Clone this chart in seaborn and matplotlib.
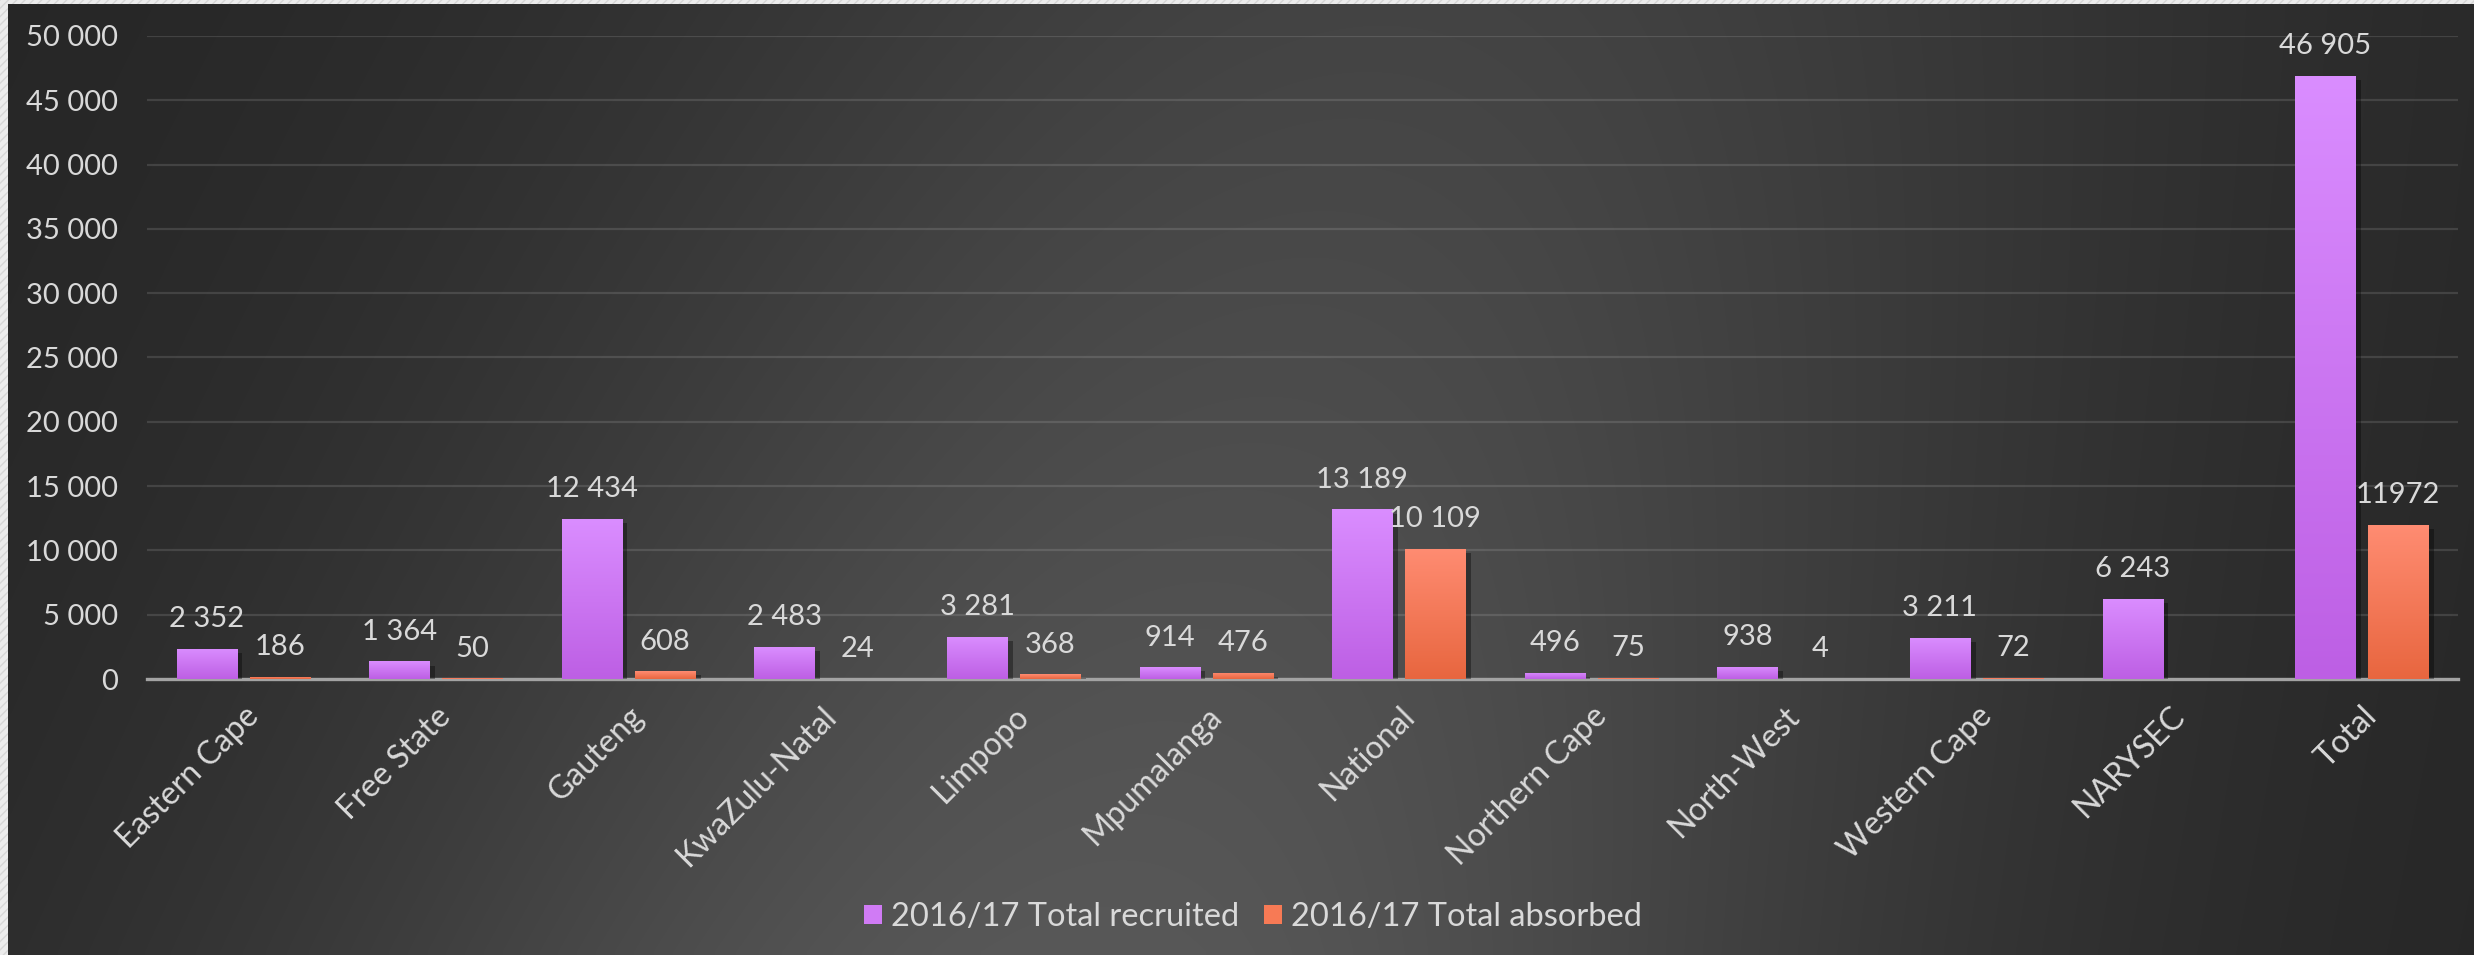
import numpy as np
import pandas as pd
import matplotlib
matplotlib.use("Agg")
import matplotlib.pyplot as plt
import matplotlib.patheffects as pe
from matplotlib.patches import Rectangle, Patch
from matplotlib.colors import LinearSegmentedColormap
import seaborn as sns

# ---------------- data ----------------
categories = ["Eastern Cape", "Free State", "Gauteng", "KwaZulu-Natal", "Limpopo",
              "Mpumalanga", "National", "Northern Cape", "North-West", "Western Cape",
              "NARYSEC", "Total"]
recruited = [2352, 1364, 12434, 2483, 3281, 914, 13189, 496, 938, 3211, 6243, 46905]
absorbed = [186, 50, 608, 24, 368, 476, 10109, 75, 4, 72, np.nan, 11972]
recruited_labels = ["2 352", "1 364", "12 434", "2 483", "3 281", "914", "13 189",
                    "496", "938", "3 211", "6 243", "46 905"]
absorbed_labels = ["186", "50", "608", "24", "368", "476", "10 109", "75", "4", "72",
                   None, "11972"]
series_names = ["2016/17 Total recruited", "2016/17 Total absorbed"]
yticks = list(range(0, 50001, 5000))
ytick_labels = ["0", "5 000", "10 000", "15 000", "20 000", "25 000", "30 000",
                "35 000", "40 000", "45 000", "50 000"]

# ---------------- style ----------------
sns.set_theme(style="dark")
plt.rcParams["font.family"] = ["Lato", "DejaVu Sans"]
TXT = "#d9d9d9"
W, H, DPI = 2474, 955, 100
purple_top, purple_bot = "#da8dff", "#bd5fe4"
orange_top, orange_bot = "#ff8c72", "#e8663f"

fig = plt.figure(figsize=(W / DPI, H / DPI), dpi=DPI, facecolor="#ebebeb")

# hatched light border (top/left) behind everything
bgh = fig.add_axes([0, 0, 1, 1], zorder=-20)
bgh.set_axis_off()
bgh.add_patch(Rectangle((0, 0), 1, 1, transform=bgh.transAxes, facecolor="#ececec",
                        edgecolor="#d6d6d6", hatch="////", linewidth=0))

# dark gradient background
bg = fig.add_axes([8 / W, 0, 1 - 8 / W, 1 - 4 / H], zorder=-10)
bg.set_axis_off()
gx = np.linspace(0, 1, 400)
gy = np.linspace(0, 1, 160)
X, Y = np.meshgrid(gx, gy)
U = X + 0.12 * (Y - 0.5)
val = 0.145 + (0.12 + 0.08 * Y) * np.exp(-((U - 0.5) / 0.33) ** 2)
bg.imshow(np.dstack([val, val, val]), aspect="auto", extent=[0, 1, 1, 0],
          interpolation="bilinear")
bg.set_xlim(0, 1)
bg.set_ylim(1, 0)

# main axes
ax = fig.add_axes([147 / W, 1 - 679 / H, (2458 - 147) / W, (679 - 36) / H])
ax.set_facecolor("none")

df = pd.DataFrame({
    "category": categories * 2,
    "value": recruited + absorbed,
    "series": [series_names[0]] * len(categories) + [series_names[1]] * len(categories),
})
sns.barplot(data=df, x="category", y="value", hue="series", order=categories,
            hue_order=series_names, palette=[purple_bot, orange_bot],
            width=0.76, gap=0.18, errorbar=None, ax=ax, legend=False,
            linewidth=0, zorder=3)

ax.set_ylim(0, 50000)
ax.set_yticks(yticks)
ax.set_yticklabels(ytick_labels)
ax.set_xlim(-0.5, len(categories) - 0.5)
ax.set_xlabel("")
ax.set_ylabel("")
ax.grid(axis="y", color="#ffffff", alpha=0.12, linewidth=1.6, zorder=0)
ax.grid(axis="x", visible=False)
for s in ["left", "right", "top"]:
    ax.spines[s].set_visible(False)
ax.spines["bottom"].set_color("#a3a3a3")
ax.spines["bottom"].set_linewidth(2.4)
ax.spines["bottom"].set_zorder(5)
ax.tick_params(axis="y", length=0, pad=21, labelsize=21, labelcolor=TXT)
ax.tick_params(axis="x", length=0, pad=16, labelsize=23, labelcolor=TXT)
for lab in ax.get_xticklabels():
    lab.set_rotation(45)
    lab.set_ha("right")
    lab.set_va("top")
    lab.set_rotation_mode("anchor")

# gradient fill + shadow + labels for each bar
cmaps = [LinearSegmentedColormap.from_list("p", [purple_bot, purple_top]),
         LinearSegmentedColormap.from_list("o", [orange_bot, orange_top])]
label_sets = [recruited_labels, absorbed_labels]
grad = np.linspace(0, 1, 256).reshape(-1, 1)
for ci, cont in enumerate(ax.containers):
    for bar in cont:
        h = bar.get_height()
        if not np.isfinite(h) or h <= 0:
            continue
        x0 = bar.get_x()
        w = bar.get_width()
        bar.set_path_effects([pe.SimplePatchShadow(offset=(4, -3), shadow_rgbFace="black",
                                                   alpha=0.35), pe.Normal()])
        bar.set_zorder(6)
        im = ax.imshow(grad, cmap=cmaps[ci], aspect="auto", origin="lower",
                       extent=[x0, x0 + w, 0, h], zorder=6.5)
        im.set_clip_path(bar)
        idx = int(round(x0 + w / 2))
        txt = label_sets[ci][idx]
        if txt is not None:
            ax.annotate(txt, (x0 + w / 2, h), xytext=(0, 12), textcoords="offset points",
                        ha="center", va="bottom", fontsize=21, color=TXT,
                        annotation_clip=False, zorder=7)
ax.set_xlim(-0.5, len(categories) - 0.5)
ax.set_ylim(0, 50000)

# legend
handles = [Patch(facecolor="#d07bf5", edgecolor="none"),
           Patch(facecolor="#f77a55", edgecolor="none")]
fig.legend(handles, series_names, loc="center", bbox_to_anchor=(1253 / W, 1 - 917 / H),
           ncol=2, frameon=False, fontsize=23.5, labelcolor=TXT,
           handlelength=0.55, handleheight=0.55, handletextpad=0.28, columnspacing=0.75)

fig.savefig("out.png", dpi=DPI, facecolor=fig.get_facecolor())
